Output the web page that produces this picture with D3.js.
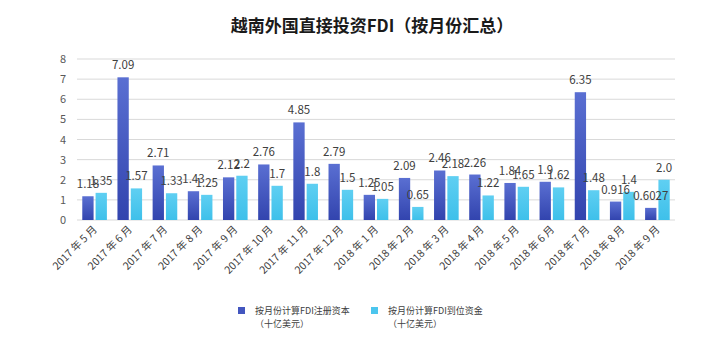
<!DOCTYPE html>
<html><head><meta charset="utf-8">
<script src="https://cdn.jsdelivr.net/npm/d3@7"></script>
<style>body{margin:0;background:#fff;} svg{display:block;}</style>
</head><body>
<script>
const categories = ["2017 年 5 月","2017 年 6 月","2017 年 7 月","2017 年 8 月","2017 年 9 月","2017 年 10 月","2017 年 11 月","2017 年 12 月","2018 年 1 月","2018 年 2 月","2018 年 3 月","2018 年 4 月","2018 年 5 月","2018 年 6 月","2018 年 7 月","2018 年 8 月","2018 年 9 月"];
const registered = [1.18,7.09,2.71,1.43,2.12,2.76,4.85,2.79,1.25,2.09,2.46,2.26,1.84,1.9,6.35,0.916,0.6027];
const disbursed = [1.35,1.57,1.33,1.25,2.2,1.7,1.8,1.5,1.05,0.65,2.18,1.22,1.65,1.62,1.48,1.4,2.0];
const registeredLabels = ["1.18","7.09","2.71","1.43","2.12","2.76","4.85","2.79","1.25","2.09","2.46","2.26","1.84","1.9","6.35","0.916","0.6027"];
const disbursedLabels = ["1.35","1.57","1.33","1.25","2.2","1.7","1.8","1.5","1.05","0.65","2.18","1.22","1.65","1.62","1.48","1.4","2.0"];
const yTicks = [0,1,2,3,4,5,6,7,8];
const seriesNames = ["按月份计算FDI注册资本","按月份计算FDI到位资金"];
const unitLabel = "（十亿美元）";
const title = "越南外国直接投资FDI（按月份汇总）";

const W = 713, H = 350;
const svg = d3.select("body").append("svg").attr("width", W).attr("height", H);
const defs = svg.append("defs");
const g1 = defs.append("linearGradient").attr("id","gDark").attr("x1",0).attr("y1",0).attr("x2",0).attr("y2",1);
g1.append("stop").attr("offset","0%").attr("stop-color","#5a6fd2");
g1.append("stop").attr("offset","100%").attr("stop-color","#3244ae");
const g2 = defs.append("linearGradient").attr("id","gLight").attr("x1",0).attr("y1",0).attr("x2",0).attr("y2",1);
g2.append("stop").attr("offset","0%").attr("stop-color","#5fcff2");
g2.append("stop").attr("offset","100%").attr("stop-color","#3ec0ea");

const font = "'Noto Sans CJK SC','Noto Sans',sans-serif";

svg.append("text").attr("x", 372).attr("y", 32).attr("text-anchor","middle")
  .attr("font-family", font).attr("font-size", 17).attr("font-weight","bold").attr("fill","#1a1a1a")
  .text(title);

const y = d3.scaleLinear().domain([0,8]).range([220,59]);
const x0 = d3.scaleBand().domain(categories).range([77,675]).paddingInner(0.3).paddingOuter(0.15);
const x1 = d3.scaleBand().domain([0,1]).range([0, x0.bandwidth()]).paddingInner(0.15);

// gridlines
svg.append("g").selectAll("line").data(yTicks).join("line")
  .attr("x1",77).attr("x2",675).attr("y1",d=>y(d)).attr("y2",d=>y(d))
  .attr("stroke","#d9d9d9").attr("stroke-width",1);

// y tick labels
svg.append("g").selectAll("text").data(yTicks).join("text")
  .attr("x",66).attr("y",d=>y(d)+4).attr("text-anchor","end")
  .attr("font-family",font).attr("font-size",11).attr("fill","#595959").text(d=>d);

const series = [
  {vals: registered, labels: registeredLabels, fill: "url(#gDark)"},
  {vals: disbursed, labels: disbursedLabels, fill: "url(#gLight)"}
];
series.forEach((s, si) => {
  svg.append("g").selectAll("rect").data(categories).join("rect")
    .attr("x", (c)=>x0(c)+x1(si)).attr("width", x1.bandwidth())
    .attr("y", (c,i)=>y(s.vals[i])).attr("height", (c,i)=>y(0)-y(s.vals[i]))
    .attr("fill", s.fill);
});
series.forEach((s, si) => {
  svg.append("g").selectAll("text").data(categories).join("text")
    .attr("x", (c)=>x0(c)+x1(si)+x1.bandwidth()/2)
    .attr("y", (c,i)=>y(s.vals[i])-8)
    .attr("text-anchor","middle").attr("font-family",font).attr("font-size",11.5).attr("fill","#404040")
    .text((c,i)=>s.labels[i]);
});

// x labels
svg.append("g").selectAll("text").data(categories).join("text")
  .attr("transform", c=>`translate(${x0(c)+x0.bandwidth()/2+3},${230}) rotate(-45)`)
  .attr("text-anchor","end").attr("font-family",font).attr("font-size",10.5).attr("fill","#404040")
  .text(c=>c);

// legend
const legX = [238, 371];
const legColors = ["#4356bf","#4cc6ee"];
seriesNames.forEach((n,i)=>{
  svg.append("rect").attr("x",legX[i]).attr("y",307).attr("width",7).attr("height",7).attr("fill",legColors[i]);
  const t = svg.append("text").attr("font-family",font).attr("font-size",9).attr("fill","#404040");
  t.append("tspan").attr("x",legX[i]+17).attr("y",314).text(n);
  t.append("tspan").attr("x",legX[i]+17).attr("y",327).text(unitLabel);
});
</script>
</body></html>
